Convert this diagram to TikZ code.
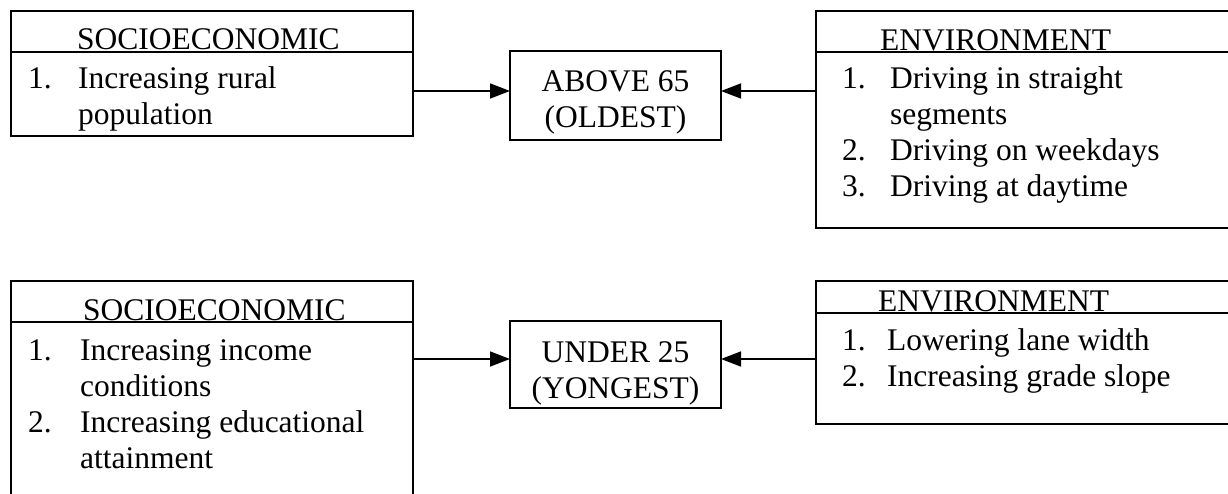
\documentclass[tikz,border=0pt]{standalone}
\usepackage{fontspec}
\setmainfont{Liberation Serif}
\usetikzlibrary{arrows.meta}
\begin{document}
\begin{tikzpicture}[x=1pt,y=-1pt,
  box/.style={draw, line width=1.5pt, inner sep=0pt, outer sep=0pt, anchor=north west},
  txt/.style={anchor=base west, inner sep=0pt, font=\fontsize{31.5}{36}\selectfont},
  ctxt/.style={anchor=base, inner sep=0pt, font=\fontsize{31.5}{36}\selectfont},
  rule/.style={line width=1.5pt},
  arr/.style={line width=1.5pt, -{Triangle[length=20pt,width=15pt]}}]
\useasboundingbox (0,0) rectangle (1228,494);

% boxes
\node[box, minimum width=402pt, minimum height=125pt] (socA) at (11,11) {};
\node[box, minimum width=211pt, minimum height=89pt]  (oldA) at (510,51) {};
\node[box, minimum width=413pt, minimum height=217pt] (envA) at (816,11) {};
\node[box, minimum width=402pt, minimum height=220pt] (socB) at (11,281) {};
\node[box, minimum width=211pt, minimum height=87pt]  (youB) at (510,321) {};
\node[box, minimum width=413pt, minimum height=143pt] (envB) at (816,281) {};

% header rules
\draw[rule] (socA.west |- 0,52) -- (socA.east |- 0,52);
\draw[rule] (envA.west |- 0,52) -- (envA.east |- 0,52);
\draw[rule] (socB.west |- 0,322) -- (socB.east |- 0,322);
\draw[rule] (envB.west |- 0,313) -- (envB.east |- 0,313);

% upper row texts
\node[txt] (hA1) at (77,50) {SOCIOECONOMIC};
\node[txt] (nA1) at (28,89) {1.};
\node[txt] (tA1) at (78,89) {Increasing rural};
\node[txt] (tA2) at (78,125) {population};

\node[ctxt] (oA1) at (615.5,92) {ABOVE 65};
\node[ctxt] (oA2) at (615.5,128) {(OLDEST)};

\node[txt] (hE1) at (880,51) {ENVIRONMENT};
\node[txt] (nE1) at (842,89) {1.};
\node[txt] (tE1) at (890,89) {Driving in straight};
\node[txt] (tE2) at (890,125) {segments};
\node[txt] (nE2) at (842,161) {2.};
\node[txt] (tE3) at (890,161) {Driving on weekdays};
\node[txt] (nE3) at (842,197) {3.};
\node[txt] (tE4) at (890,197) {Driving at daytime};

% lower row texts
\node[txt] (hB1) at (83,320) {SOCIOECONOMIC};
\node[txt] (nB1) at (28,360) {1.};
\node[txt] (tB1) at (80,360) {Increasing income};
\node[txt] (tB2) at (80,396) {conditions};
\node[txt] (nB2) at (28,432) {2.};
\node[txt] (tB3) at (80,432) {Increasing educational};
\node[txt] (tB4) at (80,468) {attainment};

\node[ctxt] (yB1) at (615.5,362) {UNDER 25};
\node[ctxt] (yB2) at (615.5,398) {(YONGEST)};

\node[txt] (hF1) at (878,311) {ENVIRONMENT};
\node[txt] (nF1) at (842,350) {1.};
\node[txt] (tF1) at (887,350) {Lowering lane width};
\node[txt] (nF2) at (842,386) {2.};
\node[txt] (tF2) at (887,386) {Increasing grade slope};

% connectors
\draw[arr] (socA.east |- 0,91) -- (oldA.west |- 0,91);
\draw[arr] (envA.west |- 0,91) -- (oldA.east |- 0,91);
\draw[arr] (socB.east |- 0,359) -- (youB.west |- 0,359);
\draw[arr] (envB.west |- 0,359) -- (youB.east |- 0,359);
\end{tikzpicture}
\end{document}
